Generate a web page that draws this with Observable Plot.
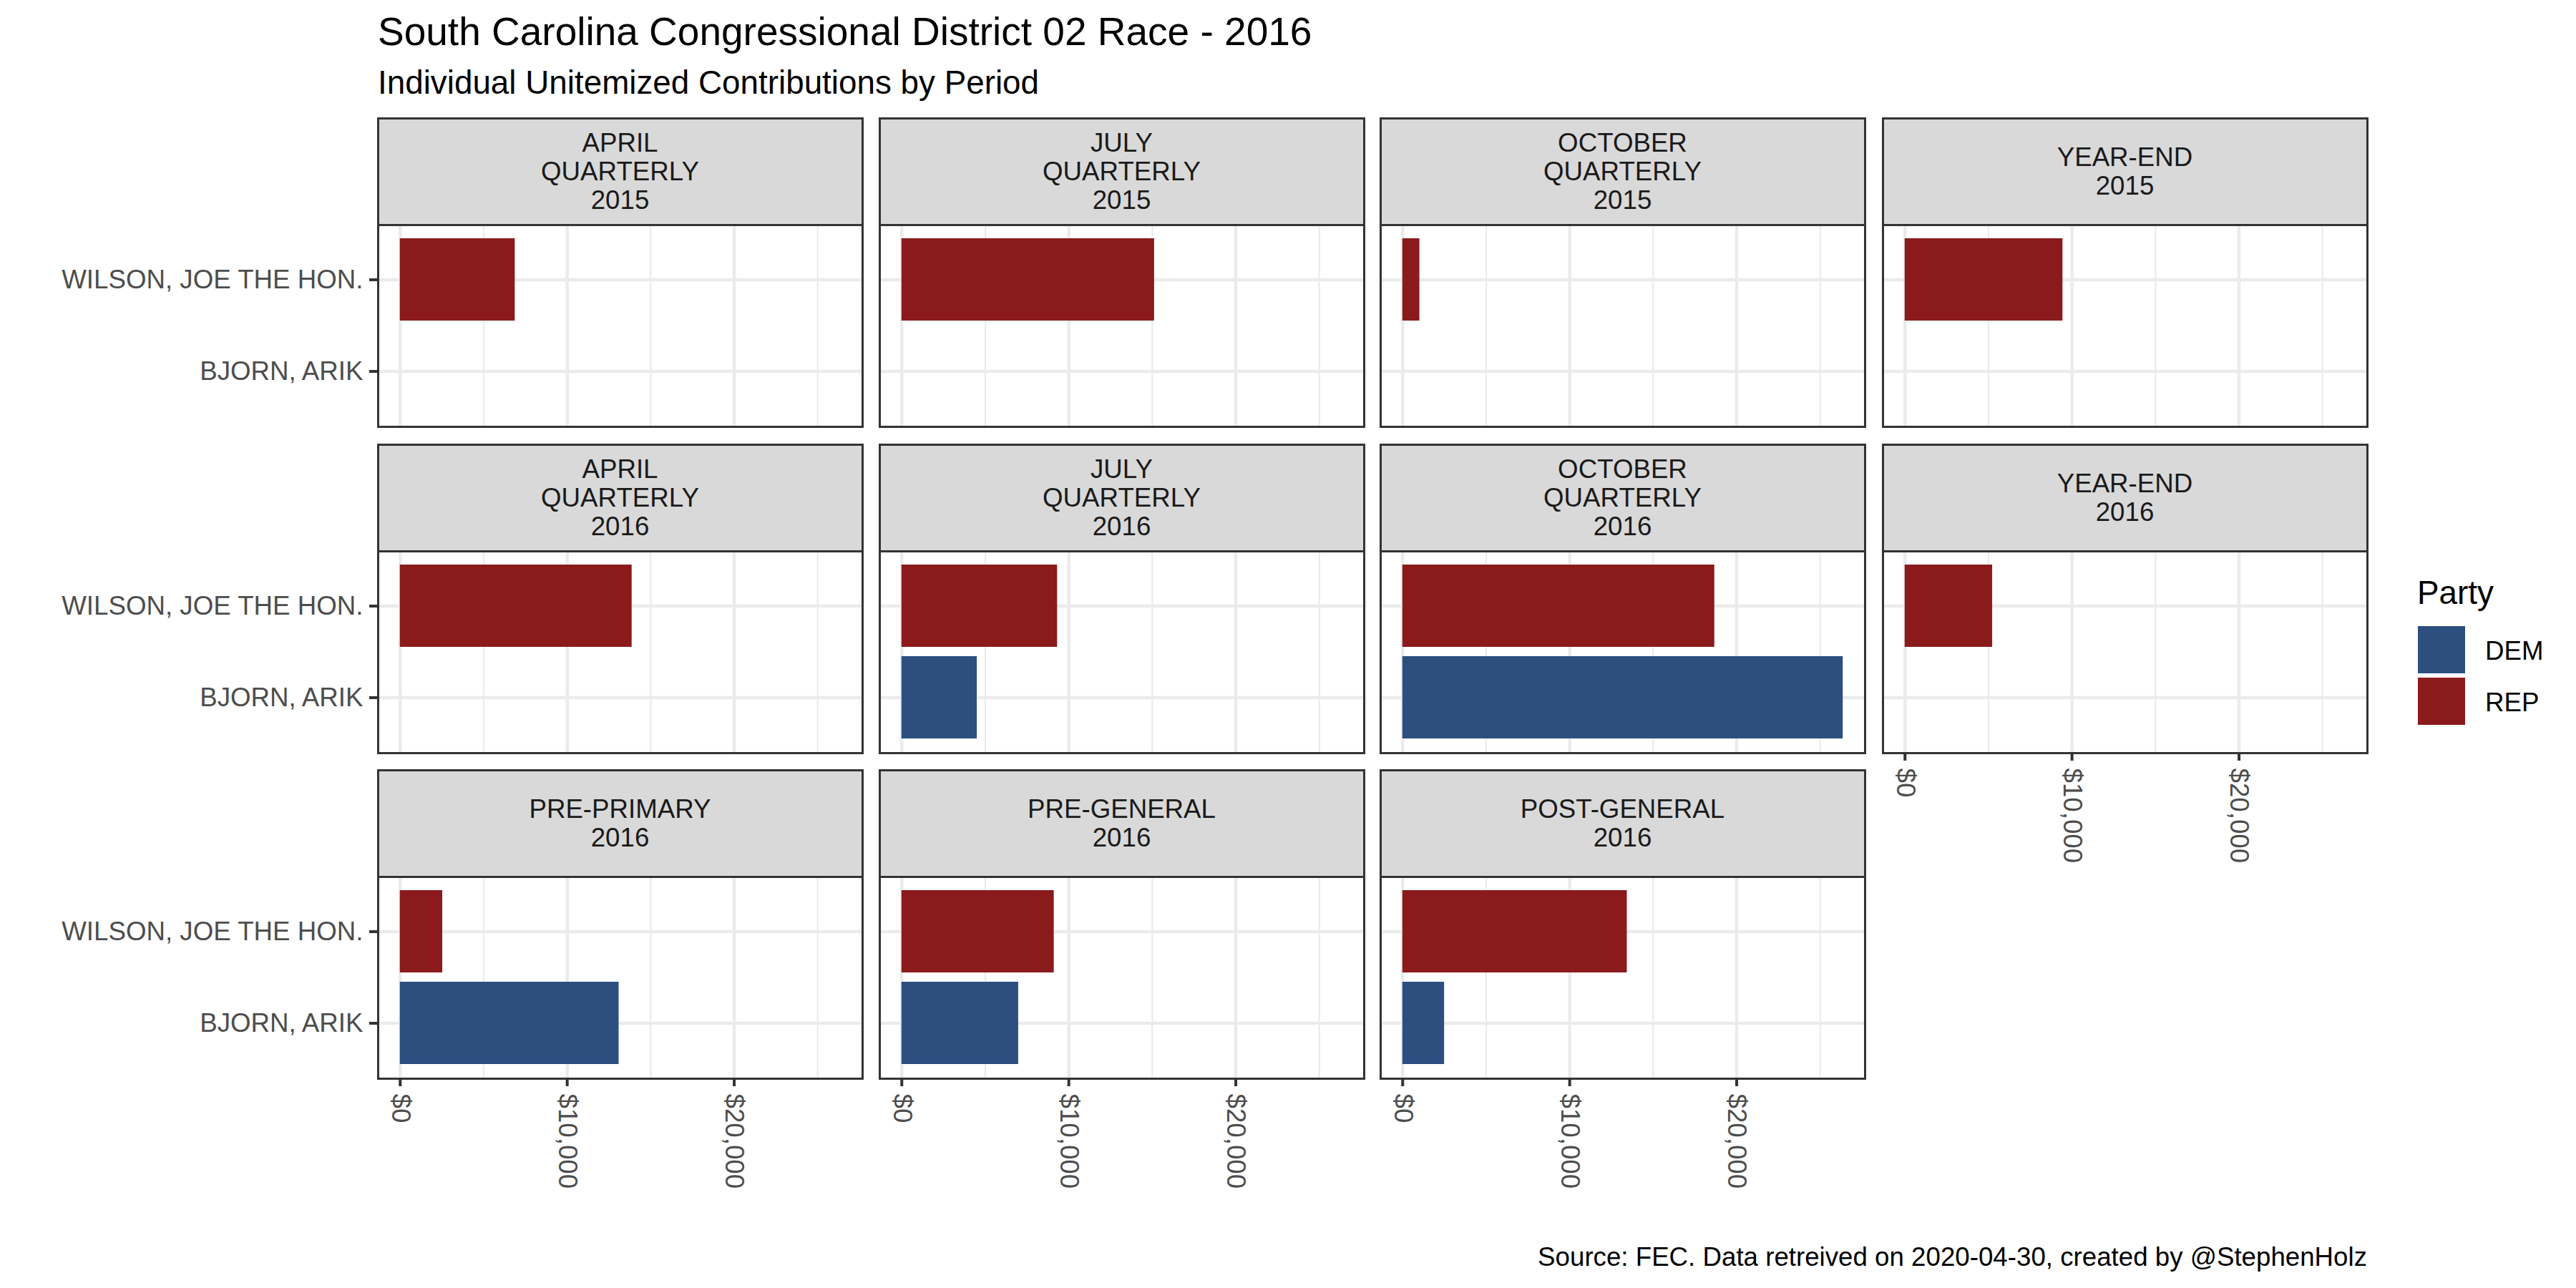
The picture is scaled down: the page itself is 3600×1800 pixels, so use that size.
<!DOCTYPE html>
<html>
<head>
<meta charset="utf-8">
<script src="https://cdn.jsdelivr.net/npm/d3@7"></script>
<script src="https://cdn.jsdelivr.net/npm/@observablehq/plot@0.6"></script>
<style>
  html, body { margin: 0; padding: 0; background: #fff; }
  #root { position: relative; width: 3600px; height: 1800px; background: #fff; font-family: "Liberation Sans", Arial, sans-serif; overflow: hidden; }
  .abs { position: absolute; white-space: nowrap; }
  .strip { position: absolute; box-sizing: border-box; background: #D9D9D9; border: 3px solid #333333; color: #1A1A1A; font-size: 36.7px; line-height: 40px; text-align: center; white-space: pre-line; display: flex; align-items: center; justify-content: center; }
  .panel { position: absolute; }
  .panel svg { display: block; overflow: visible; }
  g[aria-label="x-axis tick label"] text, g[aria-label="y-axis tick label"] text { fill: #4D4D4D; }
</style>
</head>
<body>
<div id="root"></div>
<script>
// ---- Data ----
const periods = [
  "APRIL QUARTERLY 2015", "JULY QUARTERLY 2015", "OCTOBER QUARTERLY 2015", "YEAR-END 2015",
  "APRIL QUARTERLY 2016", "JULY QUARTERLY 2016", "OCTOBER QUARTERLY 2016", "YEAR-END 2016",
  "PRE-PRIMARY 2016", "PRE-GENERAL 2016", "POST-GENERAL 2016"
];
const stripLabels = [
  "APRIL\nQUARTERLY\n2015", "JULY\nQUARTERLY\n2015", "OCTOBER\nQUARTERLY\n2015", "YEAR-END\n2015",
  "APRIL\nQUARTERLY\n2016", "JULY\nQUARTERLY\n2016", "OCTOBER\nQUARTERLY\n2016", "YEAR-END\n2016",
  "PRE-PRIMARY\n2016", "PRE-GENERAL\n2016", "POST-GENERAL\n2016"
];
const candidates = ["WILSON, JOE THE HON.", "BJORN, ARIK"];
const candidateParty = ["REP", "DEM"];
const wilsonValues = [6880, 15130, 1020, 9450, 13880, 9320, 18680, 5240, 2540, 9120, 13440];
const bjornValues  = [null, null, null, null, null, 4510, 26370, null, 13100, 6990, 2500];
const partyDomain = ["DEM", "REP"];
const partyColors = ["#2C4F80", "#8B1A1C"];
const xTicksMajor = [0, 10000, 20000];
const xTicksMinor = [5000, 15000, 25000];

const titleText = "South Carolina Congressional District 02 Race - 2016";
const subtitleText = "Individual Unitemized Contributions by Period";
const captionText = "Source: FEC. Data retreived on 2020-04-30, created by @StephenHolz";

// ---- Build table ----
const records = [];
periods.forEach((p, i) => {
  [wilsonValues, bjornValues].forEach((vals, k) => {
    if (vals[i] != null) records.push({period: p, candidate: candidates[k], party: candidateParty[k], value: vals[i]});
  });
});
const maxVal = d3.max(records, d => d.value);
const xDomain = [-0.05 * maxVal, 1.05 * maxVal];

// ---- Layout ----
const root = document.getElementById("root");
const colX = [528, 1229, 1929, 2631];
const stripTop = [164, 620, 1075];
const panelW = 677, stripH = 150, panelH = 282;
const font = "Liberation Sans, Arial, sans-serif";

function addText(text, left, top, size, color, extra = {}) {
  const d = document.createElement("div");
  d.className = "abs";
  d.textContent = text;
  Object.assign(d.style, {left: left + "px", top: top + "px", fontSize: size + "px", lineHeight: "1", color}, extra);
  root.appendChild(d);
  return d;
}

addText(titleText, 528, 17, 55, "#000");
addText(subtitleText, 528, 93, 45.8, "#000");
const cap = addText(captionText, 0, 1739, 36.7, "#000");
cap.style.left = "auto";
cap.style.right = (3600 - 3308) + "px";

periods.forEach((p, i) => {
  const row = Math.floor(i / 4), col = i % 4;
  const left = colX[col];
  const sTop = stripTop[row];
  // strip
  const s = document.createElement("div");
  s.className = "strip";
  s.textContent = stripLabels[i];
  Object.assign(s.style, {left: (left - 1.5) + "px", top: sTop + "px", width: (panelW + 3) + "px", height: (stripH + 1.5) + "px"});
  root.appendChild(s);

  const hasX = (i === 7) || row === 2;
  const hasY = col === 0;
  const mL = hasY ? 528 : 2, mT = 2, mR = 2, mB = hasX ? 160 : 2;
  const data = records.filter(d => d.period === p);
  const marks = [
    Plot.gridX(xTicksMinor, {stroke: "#EBEBEB", strokeWidth: 2.2, strokeOpacity: 1}),
    Plot.gridX(xTicksMajor, {stroke: "#EBEBEB", strokeWidth: 4.4, strokeOpacity: 1}),
    Plot.ruleY(candidates, {stroke: "#EBEBEB", strokeWidth: 4.4}),
    Plot.barX(data, {x: "value", y: "candidate", fill: "party"}),
    Plot.frame({stroke: "#333333", strokeWidth: 3})
  ];
  if (hasX) {
    marks.push(Plot.axisX({
      ticks: xTicksMajor, tickFormat: d3.format("$,"), tickRotate: 90,
      tickSize: 11, tickPadding: 10, fontSize: 36.7, fontFamily: font,
      stroke: "#333333", strokeWidth: 4, label: null
    }));
  }
  if (hasY) {
    marks.push(Plot.axisY({
      tickSize: 12, tickPadding: 9, fontSize: 36.7, fontFamily: font,
      stroke: "#333333", strokeWidth: 4, label: null
    }));
  }
  const chart = Plot.plot({
    width: mL + panelW + mR,
    height: mT + panelH + mB,
    marginLeft: mL, marginRight: mR, marginTop: mT, marginBottom: mB,
    style: {fontFamily: font, background: "transparent", overflow: "visible"},
    x: {domain: xDomain, axis: null},
    y: {domain: candidates, paddingInner: 0.1, paddingOuter: 0.15, axis: null},
    color: {domain: partyDomain, range: partyColors},
    marks
  });
  const wrap = document.createElement("div");
  wrap.className = "panel";
  Object.assign(wrap.style, {left: (left - mL) + "px", top: (sTop + stripH - mT) + "px"});
  wrap.appendChild(chart);
  root.appendChild(wrap);
});

// ---- Legend ----
addText("Party", 3378, 806, 45.8, "#000");
partyDomain.forEach((party, k) => {
  const sw = document.createElement("div");
  Object.assign(sw.style, {position: "absolute", left: "3379px", top: (875 + k * 72) + "px", width: "66px", height: "66px", background: partyColors[k]});
  root.appendChild(sw);
  addText(party, 3473, 892 + k * 72, 36.7, "#000");
});
</script>
</body>
</html>
